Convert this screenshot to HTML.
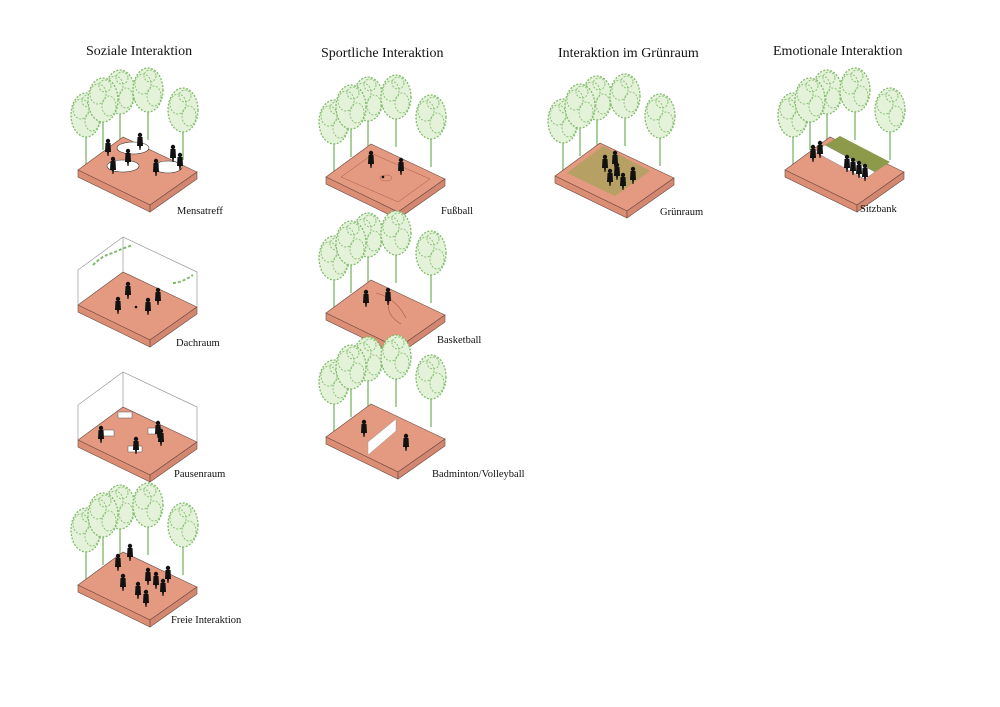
<!DOCTYPE html>
<html><head><meta charset="utf-8"><style>
body{margin:0;background:#fff;width:1000px;height:707px;overflow:hidden}
svg{display:block}
text{font-family:"Liberation Serif",serif;fill:#111}
.t{font-size:14px}
.l{font-size:10.5px}
</style></head><body>
<svg width="1000" height="707" viewBox="0 0 1000 707">
<defs>
<g id="plat">
<polygon points="0,0 45,-33 119,2 72,35" fill="#e49a80" stroke="#6b4a40" stroke-width="0.6"/>
<polygon points="0,0 72,35 72,42 0,7" fill="#dc8e74" stroke="#6b4a40" stroke-width="0.6"/>
<polygon points="72,35 119,2 119,9 72,42" fill="#d38670" stroke="#6b4a40" stroke-width="0.6"/>
</g>
<g id="tree">
<line x1="0" y1="0" x2="0" y2="-38" stroke="#8cc07a" stroke-width="1.5"/>
<ellipse cx="0" cy="-50" rx="15" ry="22" fill="#e4f2da" stroke="#7fbb68" stroke-width="1.3" stroke-dasharray="2 1.5"/>
<ellipse cx="-5" cy="-56" rx="8" ry="10" fill="none" stroke="#8cc478" stroke-width="1" stroke-dasharray="2 1.5"/>
<ellipse cx="6" cy="-44" rx="7" ry="10" fill="none" stroke="#8cc478" stroke-width="1" stroke-dasharray="2 1.5"/>
<ellipse cx="2" cy="-64" rx="6" ry="6" fill="none" stroke="#8cc478" stroke-width="1" stroke-dasharray="2 1.5"/>
</g>
<g id="p"><circle cx="0" cy="-9" r="2.2" fill="#111"/><path d="M-2.5,-7 L2.5,-7 L3,2 L1,2 L0.5,6 L-0.5,6 L-1,2 L-3,2Z" fill="#111"/></g>
<g id="trees4">
<use href="#tree" x="8" y="-5"/><use href="#tree" x="42" y="-28"/><use href="#tree" x="70" y="-30"/><use href="#tree" x="105" y="-10"/><use href="#tree" x="25" y="-20"/>
</g>
<g id="box">
<polyline points="0,0 0,-35 45,-68 119,-33 119,2" fill="none" stroke="#999" stroke-width="0.7"/>
<line x1="45" y1="-33" x2="45" y2="-68" stroke="#999" stroke-width="0.7"/>
</g>
</defs>

<text class="t" x="86" y="55">Soziale Interaktion</text>
<text class="t" x="321" y="57">Sportliche Interaktion</text>
<text class="t" x="558" y="57">Interaktion im Grünraum</text>
<text class="t" x="773" y="55">Emotionale Interaktion</text>

<g transform="translate(78,170)">
<use href="#trees4"/>
<use href="#plat"/>
<ellipse cx="55" cy="-22" rx="16" ry="6" fill="#fff" stroke="#333" stroke-width="0.6"/>
<ellipse cx="45" cy="-4" rx="16" ry="6" fill="#fff" stroke="#333" stroke-width="0.6"/>
<ellipse cx="90" cy="-3" rx="14" ry="6" fill="#fff" stroke="#333" stroke-width="0.6"/>
<use href="#p" x="30" y="-20"/><use href="#p" x="62" y="-26"/><use href="#p" x="35" y="-2"/><use href="#p" x="50" y="-10"/><use href="#p" x="78" y="0"/><use href="#p" x="102" y="-6"/><use href="#p" x="95" y="-14"/>
</g>
<text class="l" x="177" y="214">Mensatreff</text>

<g transform="translate(78,305)">
<use href="#plat"/><use href="#box"/>
<path d="M15,-40 q10,-10 20,-12 q10,-5 20,-8" stroke="#7fbb68" fill="none" stroke-width="2" stroke-dasharray="3 2"/>
<path d="M95,-22 q8,0 20,-8" stroke="#7fbb68" fill="none" stroke-width="2" stroke-dasharray="3 2"/>
<use href="#p" x="50" y="-12"/><use href="#p" x="40" y="3"/><use href="#p" x="70" y="4"/><use href="#p" x="80" y="-6"/>
<circle cx="58" cy="2" r="1.3" fill="#111"/>
</g>
<text class="l" x="176" y="346">Dachraum</text>

<g transform="translate(78,440)">
<use href="#plat"/><use href="#box"/>
<rect x="40" y="-28" width="14" height="6" fill="#fff" stroke="#555" stroke-width="0.5"/>
<rect x="22" y="-10" width="14" height="6" fill="#fff" stroke="#555" stroke-width="0.5"/>
<rect x="70" y="-12" width="14" height="6" fill="#fff" stroke="#555" stroke-width="0.5"/>
<rect x="50" y="6" width="14" height="6" fill="#fff" stroke="#555" stroke-width="0.5"/>
<use href="#p" x="23" y="-3"/><use href="#p" x="80" y="-8"/><use href="#p" x="83" y="0"/><use href="#p" x="58" y="8"/>
</g>
<text class="l" x="174" y="477">Pausenraum</text>

<g transform="translate(78,585)">
<use href="#trees4"/>
<use href="#plat"/>
<use href="#p" x="52" y="-30"/><use href="#p" x="40" y="-20"/><use href="#p" x="45" y="0"/><use href="#p" x="60" y="8"/><use href="#p" x="68" y="16"/><use href="#p" x="78" y="-2"/><use href="#p" x="85" y="5"/><use href="#p" x="70" y="-6"/><use href="#p" x="90" y="-8"/>
</g>
<text class="l" x="171" y="623">Freie Interaktion</text>

<g transform="translate(326,177)">
<use href="#trees4"/>
<use href="#plat"/>
<polygon points="15,0 47,-23 104,2 72,25" fill="none" stroke="#a85a48" stroke-width="0.5"/>
<ellipse cx="60" cy="1" rx="6" ry="3" fill="none" stroke="#a85a48" stroke-width="0.5"/>
<use href="#p" x="45" y="-15"/><use href="#p" x="75" y="-8"/><circle cx="57" cy="0" r="1.3" fill="#111"/>
</g>
<text class="l" x="441" y="214">Fußball</text>

<g transform="translate(326,313)">
<use href="#trees4"/>
<use href="#plat"/>
<path d="M50,-20 q20,5 30,25 M65,-15 q-8,15 10,26" fill="none" stroke="#a85a48" stroke-width="0.6"/>
<use href="#p" x="40" y="-12"/><use href="#p" x="62" y="-14"/>
</g>
<text class="l" x="437" y="343">Basketball</text>

<g transform="translate(326,437)">
<use href="#trees4"/>
<use href="#plat"/>
<polygon points="42,5 70,-18 70,-6 42,18" fill="#fff" stroke="#999" stroke-width="0.5"/>
<use href="#p" x="38" y="-6"/><use href="#p" x="80" y="8"/>
</g>
<text class="l" x="432" y="477">Badminton/Volleyball</text>

<g transform="translate(555,176)">
<use href="#trees4"/>
<use href="#plat"/>
<polygon points="12,-3 48,-30 95,-5 60,20" fill="#a7a15a" opacity="0.75"/>
<use href="#p" x="50" y="-10"/><use href="#p" x="60" y="-14"/><use href="#p" x="55" y="4"/><use href="#p" x="68" y="8"/><use href="#p" x="78" y="2"/><use href="#p" x="62" y="-2"/>
</g>
<text class="l" x="660" y="215">Grünraum</text>

<g transform="translate(785,170)">
<use href="#trees4"/>
<use href="#plat"/>
<polygon points="40,-25 55,-34 105,-8 90,2" fill="#8c9a4a"/>
<polygon points="30,-18 40,-25 90,2 80,9" fill="#fff" stroke="#888" stroke-width="0.5"/>
<use href="#p" x="28" y="-14"/><use href="#p" x="35" y="-18"/><use href="#p" x="62" y="-4"/><use href="#p" x="68" y="-1"/><use href="#p" x="74" y="2"/><use href="#p" x="80" y="5"/>
</g>
<text class="l" x="860" y="212">Sitzbank</text>
</svg>
</body></html>
